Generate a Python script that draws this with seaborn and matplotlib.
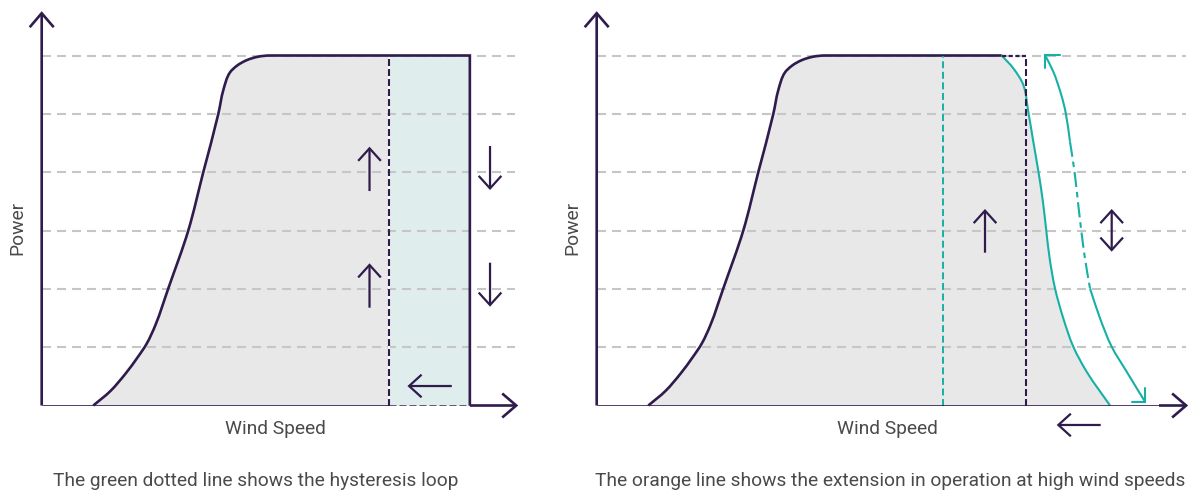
import math
import matplotlib
matplotlib.use("Agg")
import matplotlib.pyplot as plt
from matplotlib.path import Path
from matplotlib.patches import PathPatch
import seaborn as sns

# ---------------- data (wind speed units, power units; gridlines at 1..6) ----------------
rise_ws = [0.885, 1.180, 1.440, 1.640, 1.800, 1.950, 2.171, 2.513, 2.770, 3.028, 3.114, 3.221, 3.348, 3.514, 3.707, 3.914]
rise_pw = [0.0, 0.250, 0.550, 0.820, 1.060, 1.380, 2.009, 3.000, 4.000, 5.000, 5.409, 5.700, 5.826, 5.920, 5.979, 6.000]
rated_power = 6.0
grid_levels = [1, 2, 3, 4, 5, 6]

# left panel (hysteresis)
left_restart_ws = 5.96      # dashed line
left_cutout_ws = 7.34       # box right edge
left_axis_end = 8.17
left_up_arrows = [(5.62, 3.677, 4.437), (5.62, 1.677, 2.438)]      # x, tail, tip
left_down_arrows = [(7.686, 4.449, 3.694), (7.686, 2.448, 1.694)]
left_left_arrow = (0.334, 7.03, 6.27)                               # y, tail x, tip x

# right panel (high wind extension)
right_teal_ws = 5.94
right_cutout_ws = 7.355
right_axis_end = 10.14
decline_ws = [6.943, 7.142, 7.314, 7.399, 7.485, 7.571, 7.650, 7.705, 7.765, 7.857, 7.999, 8.171, 8.400, 8.800]
decline_pw = [6.0, 5.781, 5.495, 5.037, 4.523, 4.020, 3.494, 3.021, 2.524, 2.009, 1.495, 1.008, 0.579, 0.0]
span_ws = [7.686, 7.828, 7.965, 8.040, 8.114, 8.190, 8.250, 8.305, 8.370, 8.457, 8.629, 8.829, 9.086, 9.400]
span_pw = [6.006, 5.723, 5.323, 5.020, 4.523, 4.020, 3.494, 3.021, 2.524, 2.009, 1.495, 1.008, 0.579, 0.065]
span_dashed_from, span_dashed_to = 4, 9
span_top_head = [(7.943, 6.006), (7.686, 6.006), (7.686, 5.788)]
span_bot_head = [(9.172, 0.065), (9.400, 0.065), (9.400, 0.300)]
right_up_arrow = (6.657, 2.62, 3.369)
right_double_arrow = (8.829, 2.637, 3.369)
right_left_arrow = (-0.334, 8.64, 7.886)

y_axis_top = 6.76
title_left = "The green dotted line shows the hysteresis loop"
title_right = "The orange line shows the extension in operation at high wind speeds"
x_label = "Wind Speed"
y_label = "Power"

# ---------------- style ----------------
sns.set_theme(style="white")
plt.rcParams["font.family"] = ["Roboto", "DejaVu Sans"]
plt.rcParams["lines.scale_dashes"] = False

PURPLE = "#2f1b4c"
TEAL = "#17b0a6"
TEAL_FILL = "#dfeeed"
GRAY_FILL = "#e8e8e8"
GRID = "#c6c6c6"
TEXT = "#4a4a4a"
FS = 13.8

W, H = 1190, 493
UNIT = 58.33  # px per data unit (same on both axes)
ORIGIN_Y = 405.5

fig = plt.figure(figsize=(W / 100, H / 100), dpi=100)


def make_ax(origin_x, xmax):
    ymax = 6.9
    ax = fig.add_axes([origin_x / W, (H - ORIGIN_Y) / H, xmax * UNIT / W, ymax * UNIT / H])
    ax.set_xlim(0, xmax)
    ax.set_ylim(0, ymax)
    ax.axis("off")
    return ax


def _unit(dx, dy):
    n = math.hypot(dx, dy) or 1.0
    return dx / n, dy / n


def smooth_path(xs, ys, move=True, end_tangent=None):
    """Cubic Bezier segments through the read points, tangent = bisector of neighbouring chords."""
    pts = list(zip(xs, ys))
    n = len(pts)
    tans = []
    for i in range(n):
        if i == 0:
            tans.append(_unit(pts[1][0] - pts[0][0], pts[1][1] - pts[0][1]))
        elif i == n - 1:
            tans.append(end_tangent or _unit(pts[i][0] - pts[i - 1][0], pts[i][1] - pts[i - 1][1]))
        else:
            a = _unit(pts[i][0] - pts[i - 1][0], pts[i][1] - pts[i - 1][1])
            b = _unit(pts[i + 1][0] - pts[i][0], pts[i + 1][1] - pts[i][1])
            tans.append(_unit(a[0] + b[0], a[1] + b[1]))
    verts = [pts[0]] if move else []
    codes = [Path.MOVETO] if move else []
    for i in range(n - 1):
        p1, p2 = pts[i], pts[i + 1]
        d = math.hypot(p2[0] - p1[0], p2[1] - p1[1]) / 3
        c1 = (p1[0] + tans[i][0] * d, p1[1] + tans[i][1] * d)
        c2 = (p2[0] - tans[i + 1][0] * d, p2[1] - tans[i + 1][1] * d)
        verts += [c1, c2, p2]
        codes += [Path.CURVE4] * 3
    return verts, codes


def rise_path(tail):
    v, c = smooth_path(rise_ws, rise_pw, end_tangent=(1.0, 0.0))
    v += tail
    c += [Path.LINETO] * len(tail)
    return v, c


def stroke(ax, v, c, color, lw, z=5, dashes=None):
    ls = "-" if dashes is None else (0, dashes)
    ax.add_patch(PathPatch(Path(v, c), fill=False, edgecolor=color, lw=lw, linestyle=ls,
                           zorder=z, capstyle="butt", joinstyle="miter", clip_on=False))


def curve(ax, xs, ys, color, lw, z=5, dashes=None):
    v, c = smooth_path(xs, ys)
    stroke(ax, v, c, color, lw, z, dashes)


def arrow(ax, tail, tip, style="->", lw=1.6, hl=0.75, hw=0.68, color=PURPLE, z=6):
    ax.annotate("", xy=tip, xytext=tail,
                arrowprops=dict(arrowstyle=f"{style},head_length={hl},head_width={hw}",
                                lw=lw, color=color, shrinkA=0, shrinkB=0,
                                joinstyle="miter", capstyle="butt"),
                annotation_clip=False, zorder=z)


def draw_frame(ax, grid_end):
    for g in grid_levels:
        sns.lineplot(x=[0, grid_end], y=[g, g], ax=ax, color=GRID, lw=1.5, dashes=False,
                     zorder=2, estimator=None)
        ax.lines[-1].set_dashes((6.5, 4.3))
    arrow(ax, (0, 0), (0, y_axis_top), lw=1.9, hl=0.84, hw=0.72, z=7)
    ax.text(-0.423, 3.04, y_label, rotation=90, ha="center", va="center", fontsize=FS, color=TEXT)


# ---------------- left panel ----------------
axL = make_ax(41.7, 8.4)
draw_frame(axL, 8.12)

v, c = rise_path([(left_restart_ws, rated_power), (left_restart_ws, 0.0), (rise_ws[0], 0.0)])
axL.add_patch(PathPatch(Path(v, c), facecolor=GRAY_FILL, lw=0, zorder=1))
axL.fill_between([left_restart_ws, left_cutout_ws], 0, rated_power, color=TEAL_FILL, lw=0, zorder=1)
v, c = rise_path([(left_cutout_ws, rated_power), (left_cutout_ws, 0.0)])
stroke(axL, v, c, PURPLE, 1.9)
axL.plot([left_restart_ws, left_restart_ws], [0, rated_power], color="white", lw=1.4, zorder=4)
axL.plot([left_restart_ws, left_restart_ws], [0, rated_power], color=PURPLE, lw=1.5,
         dashes=(5, 2.2), zorder=5)
# x axis (dashed under the hysteresis box)
axL.plot([0, left_restart_ws], [0, 0], color=PURPLE, lw=1.9, zorder=6, solid_capstyle="butt")
axL.plot([left_restart_ws, left_cutout_ws], [0, 0], color=PURPLE, lw=1.9, zorder=6,
         dashes=(5, 2.2), alpha=0.85)
arrow(axL, (left_cutout_ws, 0), (left_axis_end, 0), lw=1.9, hl=0.84, hw=0.72, z=7)

for x, t, p in left_up_arrows + left_down_arrows:
    arrow(axL, (x, t), (x, p))
yy, tx, px = left_left_arrow
arrow(axL, (tx, yy), (px, yy))
axL.text(4.0, -0.403, x_label, ha="center", va="center", fontsize=FS, color=TEXT)

# ---------------- right panel ----------------
axR = make_ax(596.7, 10.4)
draw_frame(axR, 10.1)

v1, c1 = rise_path([(decline_ws[0], decline_pw[0])])
v2, c2 = smooth_path(decline_ws, decline_pw, move=False)
axR.add_patch(PathPatch(Path(v1 + v2 + [(rise_ws[0], 0.0)], c1 + c2 + [Path.LINETO]),
                        facecolor=GRAY_FILL, lw=0, zorder=1))
stroke(axR, v1, c1, PURPLE, 1.9)
curve(axR, decline_ws, decline_pw, TEAL, 1.5)
axR.plot([decline_ws[0], right_cutout_ws], [rated_power, rated_power], color=PURPLE, lw=1.6,
         dashes=(3, 1.8), zorder=5)
axR.plot([right_cutout_ws, right_cutout_ws], [0, rated_power], color=PURPLE, lw=1.5,
         dashes=(5, 2.2), zorder=5)
axR.plot([right_teal_ws, right_teal_ws], [0, rated_power], color=TEAL, lw=1.4,
         dashes=(5, 2.6), zorder=5)
# curved double arrow
a, b = span_dashed_from, span_dashed_to
curve(axR, span_ws[:a + 1], span_pw[:a + 1], TEAL, 1.5)
curve(axR, span_ws[a:b + 1], span_pw[a:b + 1], TEAL, 1.5, dashes=(11, 3.5, 4, 3.5))
curve(axR, span_ws[b:], span_pw[b:], TEAL, 1.5)
for head in (span_top_head, span_bot_head):
    axR.plot([p[0] for p in head], [p[1] for p in head], color=TEAL, lw=1.5, zorder=5,
             solid_joinstyle="miter", clip_on=False)

axR.plot([0, right_axis_end - 0.1], [0, 0], color=PURPLE, lw=1.9, zorder=6, solid_capstyle="butt")
arrow(axR, (right_axis_end - 0.5, 0), (right_axis_end, 0), lw=1.9, hl=0.84, hw=0.72, z=7)
x, t, p = right_up_arrow
arrow(axR, (x, t), (x, p))
x, t, p = right_double_arrow
arrow(axR, (x, t), (x, p), style="<->")
yy, tx, px = right_left_arrow
arrow(axR, (tx, yy), (px, yy))
axR.text(4.98, -0.403, x_label, ha="center", va="center", fontsize=FS, color=TEXT)

# captions
fig.text(256 / W, 1 - 481 / H, title_left, ha="center", va="center", fontsize=FS, color=TEXT)
fig.text(890.5 / W, 1 - 481 / H, title_right, ha="center", va="center", fontsize=FS, color=TEXT)

fig.savefig("out.png", dpi=100)
